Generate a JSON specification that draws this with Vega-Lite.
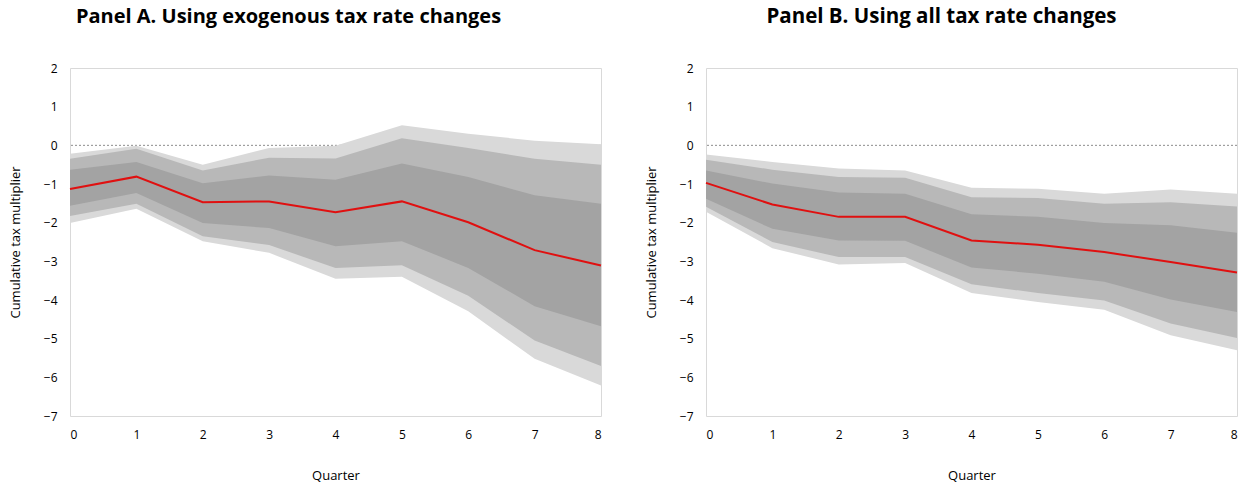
{
  "$schema": "https://vega.github.io/schema/vega-lite/v6.json",
  "background": "white",
  "padding": {"left": 8, "top": 6, "right": 10, "bottom": 2},
  "spacing": 38,
  "datasets": {
    "a": [
      {"q": 0, "l3": -2.01, "l2": -1.83, "l1": -1.56, "est": -1.13, "u1": -0.63, "u2": -0.35, "u3": -0.22},
      {"q": 1, "l3": -1.64, "l2": -1.51, "l1": -1.23, "est": -0.81, "u1": -0.43, "u2": -0.09, "u3": -0.01},
      {"q": 2, "l3": -2.48, "l2": -2.35, "l1": -2.01, "est": -1.47, "u1": -0.98, "u2": -0.65, "u3": -0.50},
      {"q": 3, "l3": -2.78, "l2": -2.58, "l1": -2.14, "est": -1.45, "u1": -0.78, "u2": -0.32, "u3": -0.07},
      {"q": 4, "l3": -3.45, "l2": -3.17, "l1": -2.61, "est": -1.73, "u1": -0.89, "u2": -0.34, "u3": -0.01},
      {"q": 5, "l3": -3.40, "l2": -3.10, "l1": -2.48, "est": -1.45, "u1": -0.47, "u2": 0.18, "u3": 0.52},
      {"q": 6, "l3": -4.29, "l2": -3.89, "l1": -3.17, "est": -1.99, "u1": -0.82, "u2": -0.07, "u3": 0.30},
      {"q": 7, "l3": -5.52, "l2": -5.05, "l1": -4.16, "est": -2.71, "u1": -1.29, "u2": -0.35, "u3": 0.12},
      {"q": 8, "l3": -6.21, "l2": -5.71, "l1": -4.68, "est": -3.11, "u1": -1.51, "u2": -0.50, "u3": 0.03}
    ],
    "b": [
      {"q": 0, "l3": -1.72, "l2": -1.59, "l1": -1.38, "est": -0.97, "u1": -0.65, "u2": -0.37, "u3": -0.24},
      {"q": 1, "l3": -2.66, "l2": -2.50, "l1": -2.16, "est": -1.53, "u1": -0.99, "u2": -0.63, "u3": -0.43},
      {"q": 2, "l3": -3.08, "l2": -2.89, "l1": -2.46, "est": -1.85, "u1": -1.22, "u2": -0.82, "u3": -0.60},
      {"q": 3, "l3": -3.04, "l2": -2.89, "l1": -2.47, "est": -1.85, "u1": -1.25, "u2": -0.84, "u3": -0.65},
      {"q": 4, "l3": -3.82, "l2": -3.59, "l1": -3.16, "est": -2.46, "u1": -1.78, "u2": -1.34, "u3": -1.10},
      {"q": 5, "l3": -4.05, "l2": -3.82, "l1": -3.32, "est": -2.57, "u1": -1.85, "u2": -1.36, "u3": -1.12},
      {"q": 6, "l3": -4.25, "l2": -4.01, "l1": -3.53, "est": -2.76, "u1": -2.01, "u2": -1.51, "u3": -1.25},
      {"q": 7, "l3": -4.91, "l2": -4.61, "l1": -3.99, "est": -3.02, "u1": -2.07, "u2": -1.47, "u3": -1.14},
      {"q": 8, "l3": -5.30, "l2": -4.98, "l1": -4.31, "est": -3.29, "u1": -2.26, "u2": -1.58, "u3": -1.25}
    ]
  },
  "hconcat": [
    {
      "width": 531,
      "height": 348,
      "title": {"text": "Panel A. Using exogenous tax rate changes", "dx": -47},
      "data": {"name": "a"},
      "encoding": {
        "x": {"field": "q", "type": "quantitative", "title": "Quarter",
          "scale": {"domain": [0, 8], "nice": false},
          "axis": {"values": [0, 1, 2, 3, 4, 5, 6, 7, 8], "format": "d"}}
      },
      "layer": [
        {"data": {"values": [{"zero": 0}]},
         "mark": {"type": "rule", "color": "#8c8c8c", "strokeDash": [2, 2], "strokeWidth": 1},
         "encoding": {"x": null, "y": {"field": "zero", "type": "quantitative", "title": "Cumulative tax multiplier", "scale": {"domain": [-7, 2], "nice": false}, "axis": {"values": [-7, -6, -5, -4, -3, -2, -1, 0, 1, 2], "labelOverlap": false, "format": "d"}}}},
        {"mark": {"type": "area", "color": "#d9d9d9", "opacity": 1},
         "encoding": {"y": {"field": "l3", "type": "quantitative", "title": "Cumulative tax multiplier", "axis": {"values": [-7, -6, -5, -4, -3, -2, -1, 0, 1, 2], "labelOverlap": false, "format": "d"}}, "y2": {"field": "u3"}}},
        {"mark": {"type": "area", "color": "#b8b8b8", "opacity": 1},
         "encoding": {"y": {"field": "l2", "type": "quantitative", "title": "Cumulative tax multiplier", "axis": {"values": [-7, -6, -5, -4, -3, -2, -1, 0, 1, 2], "labelOverlap": false, "format": "d"}}, "y2": {"field": "u2"}}},
        {"mark": {"type": "area", "color": "#a3a3a3", "opacity": 1},
         "encoding": {"y": {"field": "l1", "type": "quantitative", "title": "Cumulative tax multiplier", "axis": {"values": [-7, -6, -5, -4, -3, -2, -1, 0, 1, 2], "labelOverlap": false, "format": "d"}}, "y2": {"field": "u1"}}},
        {"mark": {"type": "line", "color": "#e01010", "strokeWidth": 2},
         "encoding": {"y": {"field": "est", "type": "quantitative", "title": "Cumulative tax multiplier", "axis": {"values": [-7, -6, -5, -4, -3, -2, -1, 0, 1, 2], "labelOverlap": false, "format": "d"}}}}
      ]
    },
    {
      "width": 531,
      "height": 348,
      "title": {"text": "Panel B. Using all tax rate changes", "dx": -30, "fontSize": 20.5},
      "data": {"name": "b"},
      "encoding": {
        "x": {"field": "q", "type": "quantitative", "title": "Quarter",
          "scale": {"domain": [0, 8], "nice": false},
          "axis": {"values": [0, 1, 2, 3, 4, 5, 6, 7, 8], "format": "d"}}
      },
      "layer": [
        {"data": {"values": [{"zero": 0}]},
         "mark": {"type": "rule", "color": "#8c8c8c", "strokeDash": [2, 2], "strokeWidth": 1},
         "encoding": {"x": null, "y": {"field": "zero", "type": "quantitative", "title": "Cumulative tax multiplier", "scale": {"domain": [-7, 2], "nice": false}, "axis": {"values": [-7, -6, -5, -4, -3, -2, -1, 0, 1, 2], "labelOverlap": false, "format": "d"}}}},
        {"mark": {"type": "area", "color": "#d9d9d9", "opacity": 1},
         "encoding": {"y": {"field": "l3", "type": "quantitative", "title": "Cumulative tax multiplier", "axis": {"values": [-7, -6, -5, -4, -3, -2, -1, 0, 1, 2], "labelOverlap": false, "format": "d"}}, "y2": {"field": "u3"}}},
        {"mark": {"type": "area", "color": "#b8b8b8", "opacity": 1},
         "encoding": {"y": {"field": "l2", "type": "quantitative", "title": "Cumulative tax multiplier", "axis": {"values": [-7, -6, -5, -4, -3, -2, -1, 0, 1, 2], "labelOverlap": false, "format": "d"}}, "y2": {"field": "u2"}}},
        {"mark": {"type": "area", "color": "#a3a3a3", "opacity": 1},
         "encoding": {"y": {"field": "l1", "type": "quantitative", "title": "Cumulative tax multiplier", "axis": {"values": [-7, -6, -5, -4, -3, -2, -1, 0, 1, 2], "labelOverlap": false, "format": "d"}}, "y2": {"field": "u1"}}},
        {"mark": {"type": "line", "color": "#e01010", "strokeWidth": 2},
         "encoding": {"y": {"field": "est", "type": "quantitative", "title": "Cumulative tax multiplier", "axis": {"values": [-7, -6, -5, -4, -3, -2, -1, 0, 1, 2], "labelOverlap": false, "format": "d"}}}}
      ]
    }
  ],
  "config": {
    "view": {"stroke": "#d9d9d9", "strokeWidth": 1},
    "axis": {
      "domain": false, "ticks": false, "grid": false, "labelOverlap": false,
      "labelFont": "Open Sans", "labelFontSize": 12, "labelColor": "#000000", "labelPadding": 13,
      "titleFont": "Open Sans", "titleFontSize": 13, "titleFontWeight": "normal", "titleColor": "#000000"
    },
    "axisX": {"titlePadding": 29},
    "axisY": {"titlePadding": 21, "labelOverlap": false, "labelSeparation": 0},
    "title": {"font": "Open Sans", "fontSize": 20, "fontWeight": "bold", "color": "#000000", "anchor": "middle", "offset": 35}
  }
}
